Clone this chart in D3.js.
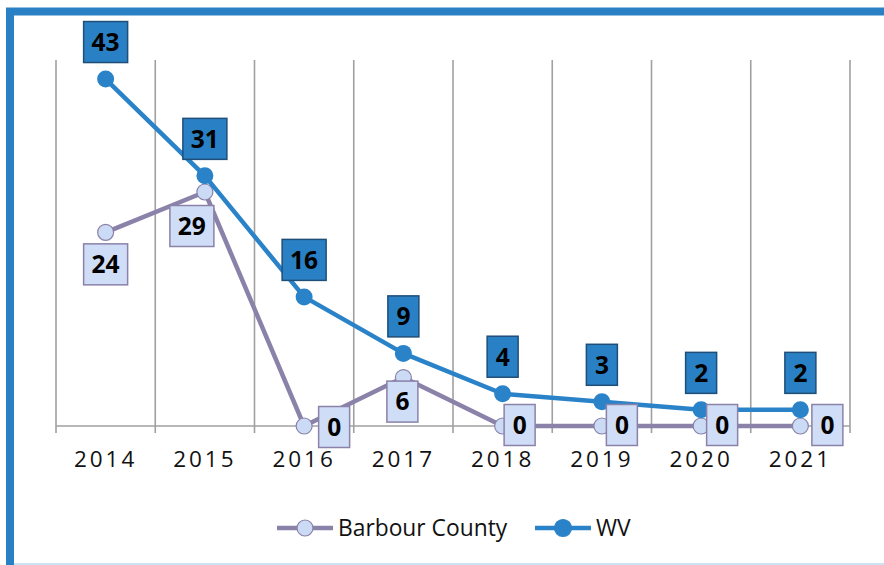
<!DOCTYPE html>
<html>
<head>
<meta charset="utf-8">
<script src="https://cdn.jsdelivr.net/npm/d3@7"></script>
<style>
  body { margin: 0; background: #fff; }
  svg { display: block; font-family: "Open Sans", "Noto Sans", sans-serif; }
</style>
</head>
<body>
<svg width="884" height="565"></svg>
<script>
const years = ["2014", "2015", "2016", "2017", "2018", "2019", "2020", "2021"];
const barbour = [24, 29, 0, 6, 0, 0, 0, 0];
const wv = [43, 31, 16, 9, 4, 3, 2, 2];
const seriesNames = ["Barbour County", "WV"];

// label offsets from the point (Excel placed them by hand, more or less)
const barbourLabelOffset = [[0, 32], [-13, 34], [30, 1], [-1, 24], [17, -1], [20, -1], [21, -1], [27, -1]];
const wvLabelOffset = [0, -37];

const svg = d3.select("svg");
const blue = "#2a83c8", purple = "#8a82a8";

// frame
svg.append("rect")
  .attr("x", 10).attr("y", 11.5)
  .attr("width", 900).attr("height", 600)
  .attr("fill", "none").attr("stroke", "#2a80c4").attr("stroke-width", 8);
svg.append("line")
  .attr("x1", 14).attr("x2", 884).attr("y1", 564).attr("y2", 564)
  .attr("stroke", "#bcd8ef").attr("stroke-width", 1.5);

const x = d3.scaleBand().domain(years).range([56, 850]).padding(0);
const y = d3.scaleLinear().domain([0, 45]).range([426, 62.9]);
const cx = (d) => x(d) + x.bandwidth() / 2;

// vertical gridlines at category boundaries
const edges = years.map((d) => x(d)).concat([x.range()[1]]);
svg.append("g").selectAll("line").data(edges).enter().append("line")
  .attr("x1", (d) => d).attr("x2", (d) => d)
  .attr("y1", 60).attr("y2", 433)
  .attr("stroke", "#a0a0a0").attr("stroke-width", 1.6);

svg.append("line")
  .attr("x1", 56).attr("x2", 850).attr("y1", y(0)).attr("y2", y(0))
  .attr("stroke", "#a0a0a0").attr("stroke-width", 1.6);

const axis = svg.append("g")
  .attr("transform", `translate(0,${y(0)})`)
  .call(d3.axisBottom(x).tickSize(0).tickPadding(25));
axis.select(".domain").remove();
axis.selectAll("text")
  .attr("font-size", 22.5).attr("fill", "#111")
  .attr("letter-spacing", 3)
  .attr("font-family", "'Open Sans', sans-serif");

const line = d3.line().x((d, i) => cx(years[i])).y((d) => y(d));

// Barbour series
svg.append("path").datum(barbour)
  .attr("d", line).attr("fill", "none")
  .attr("stroke", purple).attr("stroke-width", 4.5).attr("stroke-linejoin", "round");
svg.append("g").selectAll("circle").data(barbour).enter().append("circle")
  .attr("cx", (d, i) => cx(years[i])).attr("cy", (d) => y(d)).attr("r", 8)
  .attr("fill", "#cbdaf5").attr("stroke", purple).attr("stroke-width", 1.2);

// WV series
svg.append("path").datum(wv)
  .attr("d", line).attr("fill", "none")
  .attr("stroke", blue).attr("stroke-width", 4.5).attr("stroke-linejoin", "round");
svg.append("g").selectAll("circle").data(wv).enter().append("circle")
  .attr("cx", (d, i) => cx(years[i])).attr("cy", (d) => y(d)).attr("r", 8.5)
  .attr("fill", blue);

function labels(data, offsetOf, fill, stroke) {
  const g = svg.append("g").selectAll("g").data(data).enter().append("g")
    .attr("transform", (d, i) => {
      const o = offsetOf(i);
      return `translate(${cx(years[i]) + o[0]},${y(d) + o[1]})`;
    });
  g.append("rect")
    .attr("x", (d) => -(String(d).length > 1 ? 22 : 15.5))
    .attr("width", (d) => (String(d).length > 1 ? 44 : 31))
    .attr("y", -20.5).attr("height", 41)
    .attr("fill", fill).attr("stroke", stroke).attr("stroke-width", 1.5);
  g.append("text")
    .attr("text-anchor", "middle").attr("dy", "0.36em")
    .attr("font-size", 24.5).attr("font-weight", 700).attr("fill", "#000")
    .text((d) => d);
}

labels(barbour, (i) => barbourLabelOffset[i], "#d0ddf6", purple);
labels(wv, () => wvLabelOffset, "#2a80c4", "#1f4e79");

// legend
const legend = svg.append("g");
const items = [
  { name: seriesNames[0], x1: 277, color: purple, fill: "#cbdaf5", r: 8 },
  { name: seriesNames[1], x1: 535, color: blue, fill: blue, r: 8.5 },
];
items.forEach((it) => {
  legend.append("line")
    .attr("x1", it.x1).attr("x2", it.x1 + 56).attr("y1", 528).attr("y2", 528)
    .attr("stroke", it.color).attr("stroke-width", 4.5);
  legend.append("circle")
    .attr("cx", it.x1 + 28).attr("cy", 528).attr("r", it.r)
    .attr("fill", it.fill).attr("stroke", it.color).attr("stroke-width", 1.2);
  legend.append("text")
    .attr("x", it.x1 + 61).attr("y", 536)
    .attr("font-size", 22.8).attr("fill", "#111")
    .text(it.name);
});
</script>
</body>
</html>
